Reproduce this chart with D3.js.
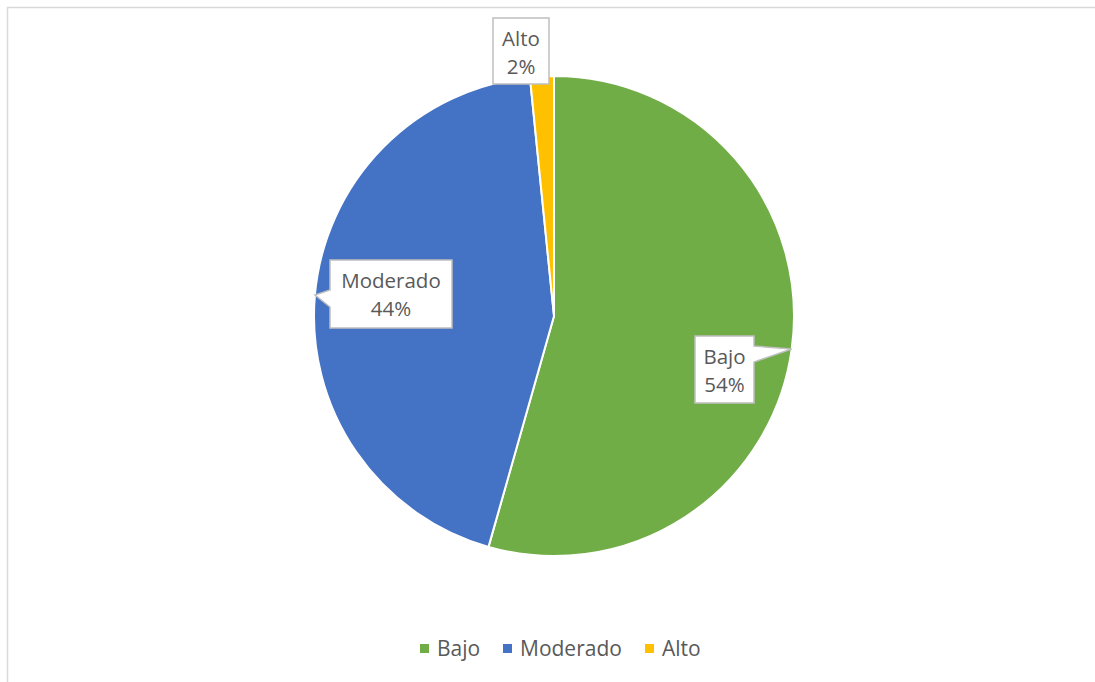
<!DOCTYPE html>
<html>
<head>
<meta charset="utf-8">
<script src="https://cdn.jsdelivr.net/npm/d3@7"></script>
<style>
  html, body { margin: 0; padding: 0; background: #fff; }
  svg { display: block; }
</style>
</head>
<body>
<svg id="chart" width="1095" height="682"></svg>
<script>
// Risk level distribution (counts)
const categories = ["Bajo", "Moderado", "Alto"];
const values = [68, 55, 2];
const colors = ["#70ad47", "#4472c4", "#ffc000"];

const svg = d3.select("#chart");
const font = "'Open Sans', Lato, 'Liberation Sans', sans-serif";
const textColor = "#595959";

// chart frame
svg.append("rect")
  .attr("x", 7.5).attr("y", 7.5)
  .attr("width", 1090).attr("height", 700)
  .attr("fill", "none").attr("stroke", "#d9d9d9").attr("stroke-width", 1.5);

const cx = 554, cy = 316, r = 240;
const total = d3.sum(values);
const data = categories.map((c, i) => ({ name: c, value: values[i], color: colors[i] }));

const pie = d3.pie().value(d => d.value).sort(null);
const arc = d3.arc().innerRadius(0).outerRadius(r);
const arcs = pie(data);

const g = svg.append("g").attr("transform", `translate(${cx},${cy})`);
g.selectAll("path.slice")
  .data(arcs)
  .join("path")
  .attr("class", "slice")
  .attr("d", arc)
  .attr("fill", d => d.data.color)
  .attr("stroke", "#fff")
  .attr("stroke-width", 2)
  .attr("stroke-linejoin", "round");

// callout labels: box position (relative to center) and pointer side
const pct = v => Math.round(v / total * 100) + "%";
const callouts = [
  { i: 0, x: 141, y: 20, w: 59, h: 67, side: "right" },
  { i: 1, x: -224, y: -56, w: 122, h: 68, side: "left" },
  { i: 2, x: -61, y: -298, w: 56, h: 66, side: "none" }
];

callouts.forEach(c => {
  const a = arcs[c.i];
  const mid = (a.startAngle + a.endAngle) / 2;
  const tip = [Math.sin(mid) * r, -Math.cos(mid) * r];
  const x0 = c.x, y0 = c.y, x1 = c.x + c.w, y1 = c.y + c.h;
  let pts;
  if (c.side === "right") {
    pts = [[x0, y0], [x1, y0], [x1, y0 + 10], tip, [x1, y0 + 26], [x1, y1], [x0, y1]];
  } else if (c.side === "left") {
    pts = [[x0, y0], [x1, y0], [x1, y1], [x0, y1], [x0, y0 + 47], tip, [x0, y0 + 30]];
  } else {
    pts = [[x0, y0], [x1, y0], [x1, y1], [x0, y1]];
  }
  g.append("path")
    .attr("d", "M" + pts.map(p => p.join(",")).join("L") + "Z")
    .attr("fill", "#fff")
    .attr("stroke", "#bfbfbf")
    .attr("stroke-width", 1.5)
    .attr("stroke-linejoin", "miter");
  const tx = c.x + c.w / 2;
  const t = g.append("text")
    .attr("text-anchor", "middle")
    .attr("font-family", font)
    .attr("font-size", 20.5)
    .attr("fill", textColor);
  t.append("tspan").attr("x", tx).attr("y", c.y + 28).text(a.data.name);
  t.append("tspan").attr("x", tx).attr("y", c.y + 56).text(pct(a.data.value));
});

// legend
const legendX = [420, 503, 645];
const lg = svg.append("g");
data.forEach((d, i) => {
  const lx = legendX[i];
  lg.append("rect")
    .attr("x", lx).attr("y", 644)
    .attr("width", 9).attr("height", 9)
    .attr("fill", d.color);
  lg.append("text")
    .attr("x", lx + 17).attr("y", 656)
    .attr("font-family", font)
    .attr("font-size", 21)
    .attr("fill", textColor)
    .text(d.name);
});
</script>
</body>
</html>
